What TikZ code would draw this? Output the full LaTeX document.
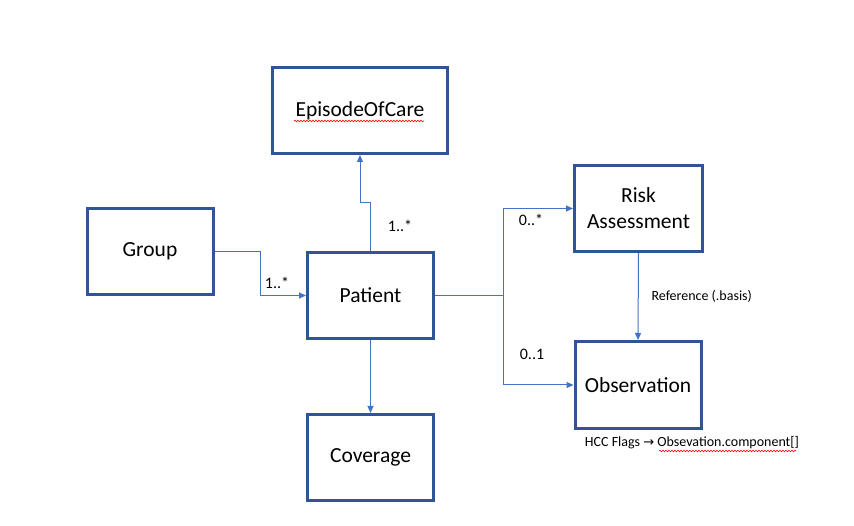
\documentclass[tikz,border=0pt]{standalone}
\usepackage{fontspec}
\setmainfont{Carlito}
\newfontfamily\symfont{DejaVu Sans}
\usetikzlibrary{arrows.meta,decorations.pathmorphing}
\definecolor{boxblue}{HTML}{2F5597}
\definecolor{linkblue}{HTML}{4472C4}
\begin{document}
\begin{tikzpicture}[
    x=1pt, y=-1pt,
    >={Triangle[length=7pt,width=6pt]},
    entity/.style={draw=boxblue, line width=3pt, fill=white, minimum width=126pt, minimum height=86pt, inner sep=0pt, font=\fontsize{21.5}{26}\selectfont, align=center},
    link/.style={draw=linkblue, line width=1pt},
    mult/.style={font=\fontsize{16}{19}\selectfont},
    note/.style={font=\fontsize{14}{17}\selectfont},
    spell/.style={draw=red, line width=0.6pt, decorate, decoration={snake, amplitude=0.8pt, segment length=3pt}}
]
\useasboundingbox (0,0) rectangle (854,526);

% Classes
\node[entity, minimum width=175pt] (epi) at (360,110.5) {EpisodeOfCare};
\node[entity] (grp) at (150,251.5) {Group};
\node[entity] (pat) at (370.5,295.5) {Patient};
\node[entity, minimum width=128pt] (risk) at (638.5,208.5) {Risk\\Assessment};
\node[entity, minimum height=87pt] (obs) at (638,385) {Observation};
\node[entity] (cov) at (370.5,457.5) {\raisebox{-3pt}{Coverage}};

% Associations
\draw[link,->] (pat.north) -- ++(0,-48) -| (epi.south);
\draw[link,->] (grp.east) -- ++(46,0) |- (pat.west);
\draw[link] (pat.east) -- ++(68,0) coordinate (fork);
\draw[link,->] (fork) |- (risk.west);
\draw[link,->] (fork) |- (obs.west);
\draw[link,->] (risk.south) -- (obs.north);
\draw[link,->] (pat.south) -- (cov.north);

% Multiplicities
\node[mult] (m1) at (400,226) {1..*};
\node[mult] (m2) at (277,283) {1..*};
\node[mult] (m3) at (531,220) {0..*};
\node[mult] (m4) at (532,354) {0..1};

% Notes
\node[note, anchor=west] (ref) at (648,296) {Reference (.basis)};
\node[note] (hcc) at (692,443) {HCC Flags {\symfont\fontsize{13}{15}\selectfont →} Obsevation.component[]};

% Spell-check marks
\draw[spell] (294,121) -- (424,121);
\draw[spell] (659,451) -- (796,451);

\end{tikzpicture}
\end{document}
